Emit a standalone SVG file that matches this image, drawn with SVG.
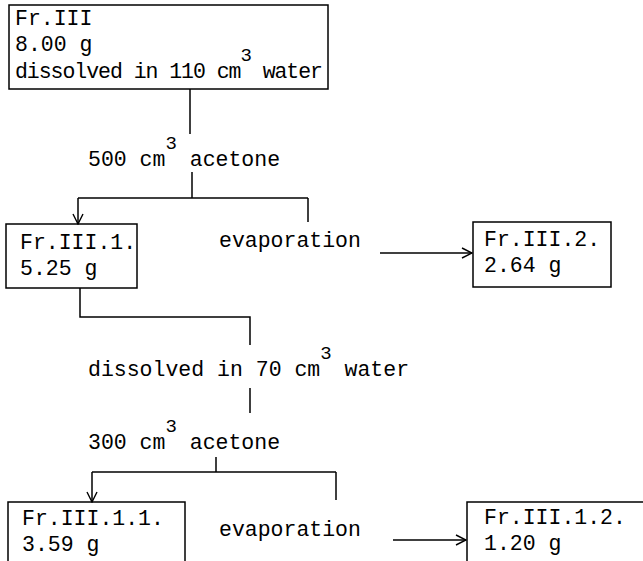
<svg xmlns="http://www.w3.org/2000/svg" width="643" height="561" viewBox="0 0 643 561">
  <style>
    .box { fill: none; stroke: #000; stroke-width: 1.5; }
    .t { font-family: "Liberation Mono", "DejaVu Sans Mono", monospace; font-size: 21.5px; fill: #000; }
    .sup { font-size: 19px; }
    .ln { fill: none; stroke: #000; stroke-width: 1.5; }
  </style>
  <defs>
    <marker id="arrow" viewBox="0 0 12 12" refX="11" refY="6" markerWidth="12" markerHeight="12" markerUnits="userSpaceOnUse" orient="auto">
      <path d="M1,1 L11,6 L1,11" fill="none" stroke="#000" stroke-width="1.4"/>
    </marker>
  </defs>
  <rect width="643" height="561" fill="#fff"/>

  <g id="fr3">
    <rect class="box" x="9" y="5" width="319" height="84"/>
    <text class="t" x="15" y="25">Fr.III</text>
    <text class="t" x="15" y="51">8.00 g</text>
    <text class="t" x="15" y="78" textLength="308" lengthAdjust="spacing">dissolved in 110 cm<tspan class="sup" dy="-17">3</tspan><tspan dy="17"> water</tspan></text>
  </g>

  <g id="step-acetone-500">
    <text class="t" x="88" y="166">500 cm<tspan class="sup" dy="-17">3</tspan><tspan dy="17"> acetone</tspan></text>
  </g>

  <g id="fr3-1">
    <rect class="box" x="6" y="224" width="131" height="64"/>
    <text class="t" x="20" y="249">Fr.III.1.</text>
    <text class="t" x="20" y="275">5.25 g</text>
  </g>

  <g id="evap-1">
    <text class="t" x="219" y="247">evaporation</text>
  </g>

  <g id="fr3-2">
    <rect class="box" x="473" y="222" width="138" height="65"/>
    <text class="t" x="484" y="246">Fr.III.2.</text>
    <text class="t" x="484" y="272">2.64 g</text>
  </g>

  <g id="step-water-70">
    <text class="t" x="88" y="376">dissolved in 70 cm<tspan class="sup" dy="-17">3</tspan><tspan dy="17"> water</tspan></text>
  </g>

  <g id="step-acetone-300">
    <text class="t" x="88" y="449">300 cm<tspan class="sup" dy="-17">3</tspan><tspan dy="17"> acetone</tspan></text>
  </g>

  <g id="fr3-1-1">
    <rect class="box" x="8" y="502" width="177" height="70"/>
    <text class="t" x="22" y="525">Fr.III.1.1.</text>
    <text class="t" x="22" y="551">3.59 g</text>
  </g>

  <g id="evap-2">
    <text class="t" x="219" y="536">evaporation</text>
  </g>

  <g id="fr3-1-2">
    <rect class="box" x="467" y="502" width="190" height="70"/>
    <text class="t" x="484" y="524">Fr.III.1.2.</text>
    <text class="t" x="484" y="550">1.20 g</text>
  </g>

  <g id="connectors">
    <line class="ln" x1="190" y1="89" x2="190" y2="134"/>
    <line class="ln" x1="192" y1="172" x2="192" y2="198"/>
    <line class="ln" x1="78" y1="198" x2="308" y2="198"/>
    <line class="ln" x1="78" y1="198" x2="78" y2="224" marker-end="url(#arrow)"/>
    <line class="ln" x1="308" y1="198" x2="308" y2="222"/>
    <line class="ln" x1="380" y1="253" x2="472" y2="253" marker-end="url(#arrow)"/>
    <polyline class="ln" points="80,288 80,317 250,317 250,345"/>
    <line class="ln" x1="250" y1="388" x2="250" y2="413"/>
    <line class="ln" x1="216" y1="457" x2="216" y2="472"/>
    <line class="ln" x1="92" y1="472" x2="336" y2="472"/>
    <line class="ln" x1="92" y1="472" x2="92" y2="502" marker-end="url(#arrow)"/>
    <line class="ln" x1="336" y1="472" x2="336" y2="500"/>
    <line class="ln" x1="393" y1="540" x2="466" y2="540" marker-end="url(#arrow)"/>
  </g>
</svg>
